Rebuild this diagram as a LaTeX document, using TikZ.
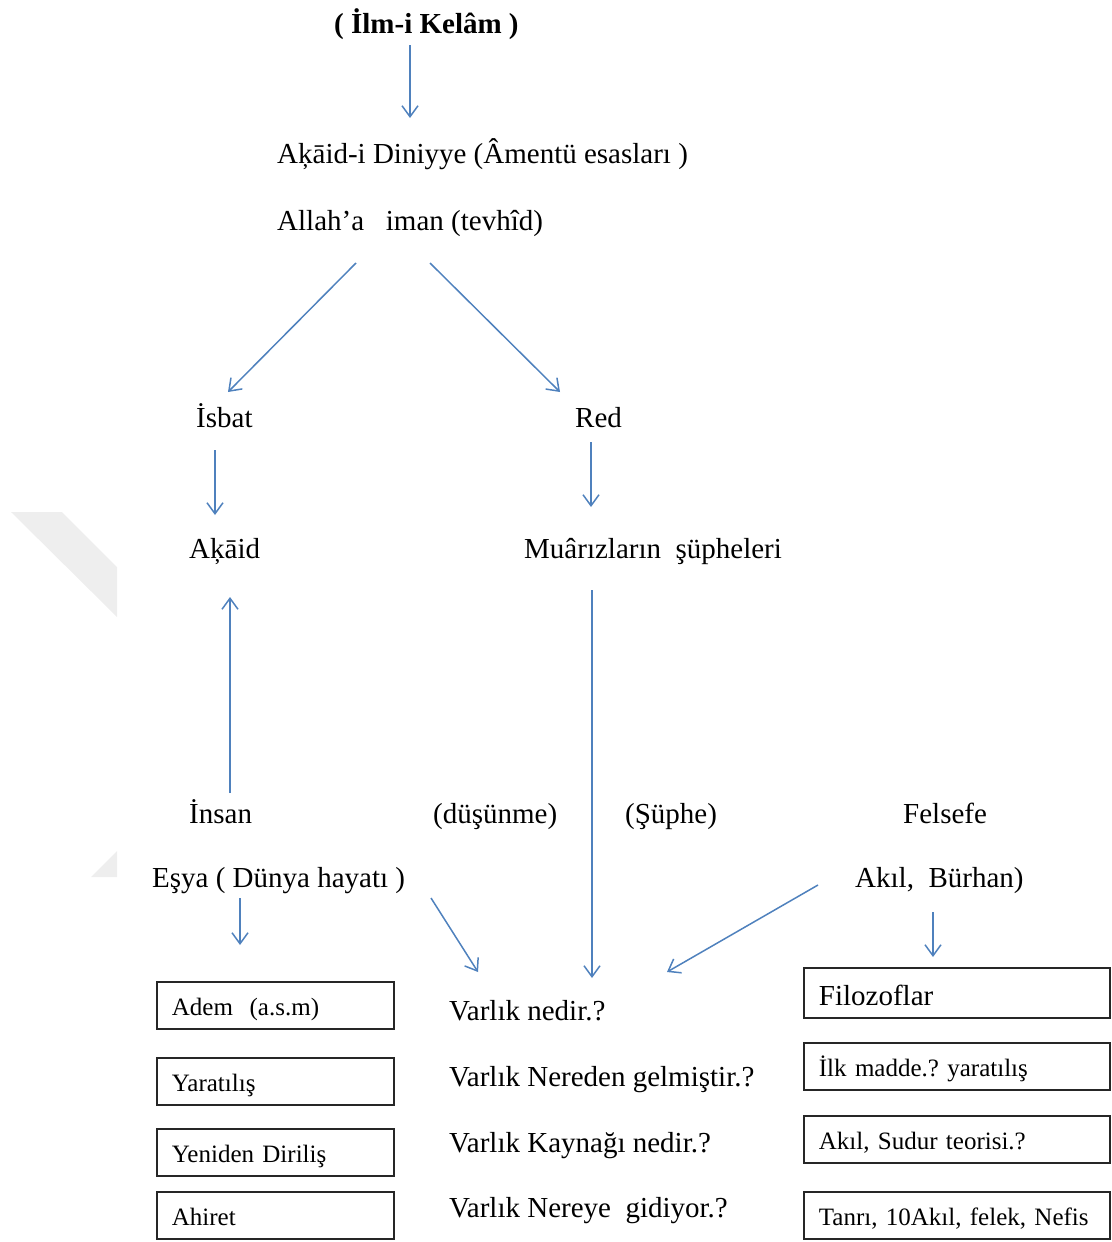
\documentclass[tikz,border=0pt]{standalone}
\usepackage{fontspec}
\setmainfont{Liberation Serif}
\usetikzlibrary{arrows.meta,calc}
\definecolor{arrblue}{RGB}{79,129,189}
\definecolor{wmgray}{RGB}{238,238,238}
\frenchspacing
\begin{document}
\begin{tikzpicture}[x=1pt,y=-1pt,
  txt/.style={anchor=base west, inner sep=0pt, font=\fontsize{29}{34}\selectfont\frenchspacing},
  btxt/.style={anchor=base west, inner sep=0pt, font=\fontsize{29}{34}\selectfont\bfseries\frenchspacing},
  box/.style={draw=black!85, line width=1.8pt, anchor=north west, align=left,
    inner xsep=15pt, inner ysep=0pt, text height=25pt, text depth=5pt,
    font=\fontsize{25}{30}\selectfont\frenchspacing},
  lbox/.style={box, text width=207pt, minimum height=47pt},
  rbox/.style={box, text width=276pt, minimum height=47pt},
  arr/.style={draw=arrblue, line width=1.5pt, -{Straight Barb[length=11pt,width=16pt,line width=1.5pt]}}
]
\useasboundingbox (0,0) rectangle (1111,1242);
% watermark
\fill[wmgray] (11,512) -- (62,512) -- (117,567) -- (117,617) -- cycle;
\fill[wmgray] (91,877) -- (117,851) -- (117,877) -- cycle;

% texts
\node[btxt] (title) at (334,33) {( İlm-i Kelâm )};
\node[txt] (ak1) at (277,163) {Aķāid-i Diniyye (Âmentü esasları )};
\node[txt] (allah) at (277,230) {Allah’a~~ iman (tevhîd)};
\node[txt] (isbat) at (196,427) {İsbat};
\node[txt] (red) at (575,427) {Red};
\node[txt] (akaid) at (189,558) {Aķāid};
\node[txt] (muariz) at (524,558) {Muârızların~ şüpheleri};
\node[txt] (insan) at (189,823) {İnsan};
\node[txt] (dusunme) at (433,823) {(düşünme)};
\node[txt] (suphe) at (625,823) {(Şüphe)};
\node[txt] (felsefe) at (903,823) {Felsefe};
\node[txt] (esya) at (152,887) {Eşya ( Dünya hayatı )};
\node[txt] (akil) at (855,887) {Akıl,~ Bürhan)};
\node[txt] (v1) at (449,1020) {Varlık nedir.?};
\node[txt] (v2) at (449,1086) {Varlık Nereden gelmiştir.?};
\node[txt] (v3) at (449,1152) {Varlık Kaynağı nedir.?};
\node[txt] (v4) at (449,1217) {Varlık Nereye~ gidiyor.?};

% left boxes
\node[lbox] (adem) at (156,981) {Adem~ (a.s.m)};
\node[lbox] (yarat) at (156,1057) {Yaratılış};
\node[lbox] (yeniden) at (156,1128) {Yeniden Diriliş};
\node[lbox] (ahiret) at (156,1191) {Ahiret};

% right boxes
\node[rbox, text height=30pt, text depth=4pt, font=\fontsize{29}{34}\selectfont, minimum height=50pt] (filo) at (803,967) {Filozoflar};
\node[rbox] (ilk) at (803,1042) {İlk madde.? yaratılış};
\node[rbox] (sudur) at (803,1115) {Akıl, Sudur teorisi.?};
\node[rbox] (tanri) at (803,1191) {Tanrı, 10Akıl, felek, Nefis};

% arrows
\draw[arr] ([shift={(76,12)}]title.base west) -- ([shift={(133,-45)}]ak1.base west);
\draw[arr] ([shift={(79,33)}]allah.base west) -- ([shift={(32,-35)}]isbat.base west);
\draw[arr] ([shift={(153,33)}]allah.base west) -- ([shift={(-15,-35)}]red.base west);
\draw[arr] ([shift={(19,23)}]isbat.base west) -- ([shift={(26,-43)}]akaid.base west);
\draw[arr] ([shift={(16,15)}]red.base west) -- ([shift={(67,-51)}]muariz.base west);
\draw[arr] ([shift={(41,-30)}]insan.base west) -- ([shift={(41,39)}]akaid.base west);
\draw[arr] ([shift={(68,32)}]muariz.base west) -- ([shift={(143,-42)}]v1.base west);
\draw[arr] ([shift={(279,11)}]esya.base west) -- ([shift={(29,-48)}]v1.base west);
\draw[arr] ([shift={(-37,-2)}]akil.base west) -- ([shift={(218,-48)}]v1.base west);
\draw[arr] ([shift={(78,25)}]akil.base west) -- ([shift={(130,-10)}]filo.north west);
\draw[arr] ([shift={(88,11)}]esya.base west) -- ([shift={(84,-36)}]adem.north west);
\end{tikzpicture}
\end{document}
